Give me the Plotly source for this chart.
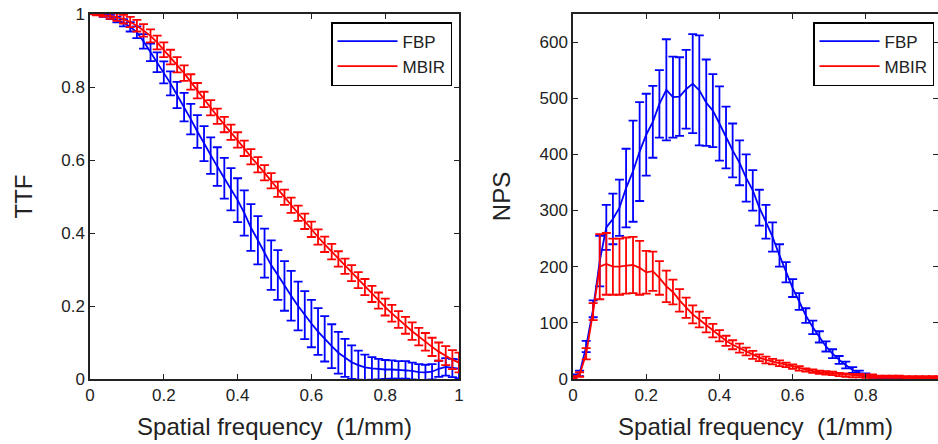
import plotly.graph_objects as go

# ---------------- data ----------------
freq = [0.0, 0.018, 0.036, 0.055, 0.073, 0.091, 0.109, 0.127, 0.145, 0.164,
        0.182, 0.2, 0.218, 0.236, 0.255, 0.273, 0.291, 0.309, 0.327, 0.345,
        0.364, 0.382, 0.4, 0.418, 0.436, 0.455, 0.473, 0.491, 0.509, 0.527,
        0.545, 0.564, 0.582, 0.6, 0.618, 0.636, 0.655, 0.673, 0.691, 0.709,
        0.727, 0.745, 0.764, 0.782, 0.8, 0.818, 0.836, 0.855, 0.873, 0.891,
        0.909, 0.927, 0.945, 0.964, 0.982, 1.0]

ttf_fbp = [1.000, 0.999, 0.996, 0.992, 0.985, 0.976, 0.965, 0.950, 0.925, 0.895,
           0.868, 0.840, 0.810, 0.778, 0.745, 0.712, 0.678, 0.645, 0.612, 0.582,
           0.550, 0.520, 0.490, 0.455, 0.415, 0.380, 0.345, 0.312, 0.285, 0.255,
           0.228, 0.200, 0.175, 0.152, 0.130, 0.110, 0.090, 0.072, 0.058, 0.046,
           0.038, 0.032, 0.029, 0.027, 0.026, 0.026, 0.025, 0.025, 0.022, 0.019,
           0.018, 0.020, 0.028, 0.033, 0.030, 0.028]
ttf_fbp_err = [0.0, 0.002, 0.004, 0.006, 0.008, 0.010, 0.013, 0.016, 0.020, 0.024,
               0.027, 0.030, 0.033, 0.036, 0.039, 0.042, 0.045, 0.048, 0.050, 0.053,
               0.056, 0.058, 0.060, 0.062, 0.064, 0.066, 0.067, 0.068, 0.068, 0.068,
               0.068, 0.067, 0.066, 0.065, 0.064, 0.062, 0.060, 0.057, 0.052, 0.046,
               0.040, 0.035, 0.031, 0.028, 0.026, 0.025, 0.024, 0.024, 0.023, 0.022,
               0.021, 0.021, 0.022, 0.024, 0.025, 0.026]

ttf_mbir = [1.000, 0.999, 0.998, 0.995, 0.991, 0.986, 0.978, 0.968, 0.955, 0.940,
            0.922, 0.902, 0.882, 0.861, 0.838, 0.814, 0.790, 0.766, 0.743, 0.720,
            0.697, 0.676, 0.655, 0.632, 0.609, 0.587, 0.565, 0.543, 0.520, 0.498,
            0.476, 0.454, 0.432, 0.410, 0.389, 0.369, 0.349, 0.329, 0.309, 0.290,
            0.271, 0.252, 0.233, 0.215, 0.197, 0.180, 0.163, 0.147, 0.131, 0.116,
            0.102, 0.088, 0.075, 0.064, 0.053, 0.045]
ttf_mbir_err = [0.0, 0.003, 0.005, 0.008, 0.010, 0.012, 0.014, 0.016, 0.017, 0.018,
                0.019, 0.020, 0.020, 0.021, 0.021, 0.021, 0.021, 0.021, 0.021, 0.021,
                0.021, 0.021, 0.021, 0.021, 0.021, 0.021, 0.021, 0.021, 0.021, 0.021,
                0.021, 0.021, 0.021, 0.021, 0.021, 0.021, 0.021, 0.021, 0.021, 0.022,
                0.022, 0.022, 0.022, 0.022, 0.023, 0.023, 0.023, 0.023, 0.024, 0.024,
                0.024, 0.025, 0.025, 0.026, 0.026, 0.027]

nps_fbp = [5, 10, 58, 125, 210, 270, 285, 305, 340, 370,
           405, 435, 458, 490, 515, 502, 503, 516, 526, 514,
           492, 478, 455, 430, 407, 385, 358, 336, 305, 280,
           253, 220, 190, 162, 138, 113, 92, 75, 58, 45,
           34, 25, 16, 11, 7, 4, 3, 2, 2, 1,
           1, 1, 1, 1, 1, 1]
nps_fbp_err = [3, 5, 10, 15, 45, 40, 45, 50, 70, 90,
               88, 73, 64, 60, 90, 72, 70, 70, 88, 98,
               77, 65, 66, 55, 48, 40, 42, 36, 32, 30,
               26, 20, 18, 16, 15, 13, 12, 10, 9, 8,
               7, 6, 5, 4, 3, 2, 2, 2, 2, 2,
               2, 2, 2, 2, 2, 2]

nps_mbir = [3, 8, 45, 120, 200, 205, 200, 200, 202, 203,
            198, 190, 192, 180, 165, 155, 140, 127, 115, 106,
            96, 86, 77, 68, 61, 55, 49, 43, 38, 34,
            31, 28, 25, 22, 19, 16, 14, 12, 11, 10,
            8, 7, 6, 6, 5, 5, 4, 4, 4, 4,
            3, 3, 3, 3, 3, 3]
nps_mbir_err = [2, 4, 10, 15, 58, 55, 50, 50, 50, 50,
                48, 38, 35, 30, 28, 22, 20, 18, 16, 14,
                13, 12, 10, 9, 8, 8, 7, 7, 6, 6,
                5, 5, 4, 4, 4, 3, 3, 3, 3, 3,
                3, 3, 3, 3, 3, 3, 2, 2, 2, 2,
                2, 2, 2, 2, 2, 2]

series_names = ["FBP", "MBIR"]
ttf_ticks = [0, 0.2, 0.4, 0.6, 0.8, 1]
ttf_tick_text = ["0", "0.2", "0.4", "0.6", "0.8", "1"]
nps_yticks = [0, 100, 200, 300, 400, 500, 600]
nps_xticks = [0, 0.2, 0.4, 0.6, 0.8]
nps_xtick_text = ["0", "0.2", "0.4", "0.6", "0.8"]
x_title = "Spatial frequency\u00a0 (1/mm)"

# ---------------- figure ----------------
W, H = 938, 444
BLUE, RED = "#0000ff", "#ff0000"
FONT = "Liberation Sans, Arial, sans-serif"
AX = "#222222"

fig = go.Figure()

def add(x, y, err, name, color, xa, ya, legend, show=True):
    fig.add_trace(go.Scatter(
        x=x, y=y, mode="lines", name=name, xaxis=xa, yaxis=ya,
        line=dict(color=color, width=1.8), legend=legend, showlegend=show,
        error_y=dict(type="data", array=err, visible=True, color=color,
                     thickness=1.8, width=4.5),
        cliponaxis=True,
    ))

add(freq, ttf_fbp, ttf_fbp_err, series_names[0], BLUE, "x", "y", "legend")
add(freq, ttf_mbir, ttf_mbir_err, series_names[1], RED, "x", "y", "legend")
add(freq, nps_fbp, nps_fbp_err, series_names[0], BLUE, "x2", "y2", "legend2")
add(freq, nps_mbir, nps_mbir_err, series_names[1], RED, "x2", "y2", "legend2")

ydom = [1 - 379 / H, 1 - 14 / H]

common = dict(showline=True, linecolor=AX, linewidth=1.5, mirror="ticks",
              ticks="inside", ticklen=5, tickcolor=AX, tickwidth=1.2,
              showgrid=False, zeroline=False, automargin=False,
              tickfont=dict(family=FONT, size=17, color="#222"))

fig.update_layout(
    width=W, height=H,
    margin=dict(l=0, r=0, t=0, b=0),
    paper_bgcolor="white", plot_bgcolor="white",
    font=dict(family=FONT, color="#222"),
    xaxis=dict(domain=[90 / W, 459 / W], range=[0, 1], anchor="y",
               tickvals=ttf_ticks, ticktext=ttf_tick_text,
               title=dict(text=x_title, font=dict(size=24), standoff=14),
               **common),
    yaxis=dict(domain=ydom, range=[0, 1], anchor="x",
               tickvals=ttf_ticks, ticktext=ttf_tick_text,
               title=dict(text="TTF", font=dict(size=24), standoff=22),
               **common),
    xaxis2=dict(domain=[573 / W, 1.0], range=[0, 0.997], anchor="y2",
                tickvals=nps_xticks, ticktext=nps_xtick_text,
                title=dict(text=x_title, font=dict(size=24), standoff=14),
                **common),
    yaxis2=dict(domain=ydom, range=[0, 650], anchor="x2",
                tickvals=nps_yticks,
                title=dict(text="NPS", font=dict(size=24), standoff=22),
                **common),
    legend=dict(x=452 / W, y=1 - 22 / H, xanchor="right", yanchor="top",
                bordercolor="black", borderwidth=1.5, bgcolor="white",
                font=dict(family=FONT, size=17, color="#222"),
                itemwidth=60, tracegroupgap=0),
    legend2=dict(x=934 / W, y=1 - 22 / H, xanchor="right", yanchor="top",
                 bordercolor="black", borderwidth=1.5, bgcolor="white",
                 font=dict(family=FONT, size=17, color="#222"),
                 itemwidth=60, tracegroupgap=0),
)

fig.write_html(
    "out.html",
    config={"displayModeBar": False},
    post_script="document.body.style.margin='0';document.body.style.padding='0';"
                "document.body.style.overflow='hidden';",
)
